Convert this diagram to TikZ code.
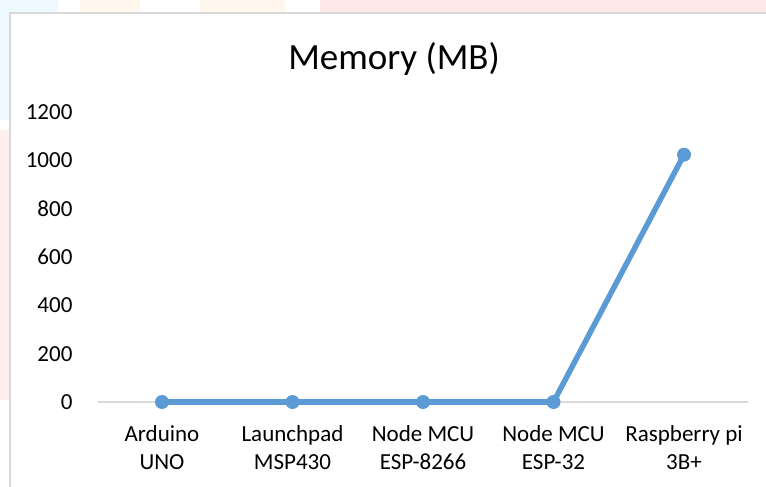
\documentclass[tikz,border=0pt]{standalone}
\usepackage{fontspec}
\setmainfont{Carlito}
\definecolor{serie}{RGB}{91,155,213}
\definecolor{grille}{RGB}{217,217,217}
\begin{document}
\begin{tikzpicture}[x=1pt, y=-1pt]
\useasboundingbox (0,0) rectangle (766,487);
% watermark traces
\fill[cyan!7] (0,0) rectangle (58,13);
\fill[cyan!7] (0,13) rectangle (10,120);
\fill[orange!7] (80,0) rectangle (140,13);
\fill[orange!7] (200,0) rectangle (285,13);
\fill[red!9] (320,0) rectangle (766,13);
\fill[red!6] (0,130) rectangle (10,400);
% chart frame
\draw[grille, line width=1.5pt] (10,487) -- (10,13) -- (766,13);
\node[anchor=base, font=\fontsize{37}{44}\selectfont] (title) at (394,70) {Memory (MB)};
% value axis
\node[anchor=east, font=\fontsize{23}{28}\selectfont] (t0) at (76,402) {0};
\node[anchor=east, font=\fontsize{23}{28}\selectfont] (t200) at (76,353.7) {200};
\node[anchor=east, font=\fontsize{23}{28}\selectfont] (t400) at (76,305.4) {400};
\node[anchor=east, font=\fontsize{23}{28}\selectfont] (t600) at (76,257.1) {600};
\node[anchor=east, font=\fontsize{23}{28}\selectfont] (t800) at (76,208.8) {800};
\node[anchor=east, font=\fontsize{23}{28}\selectfont] (t1000) at (76,160.5) {1000};
\node[anchor=east, font=\fontsize{23}{28}\selectfont] (t1200) at (76,112.2) {1200};
\coordinate (a0) at (98,402);
\coordinate (a1) at (748,402);
\draw[grille, line width=1.5pt] (a0) -- (a1);
% categories
\node[anchor=base, align=center, font=\fontsize{23}{28}\selectfont] (c1) at (162,469) {Arduino\\UNO};
\node[anchor=base, align=center, font=\fontsize{23}{28}\selectfont] (c2) at (292.5,469) {Launchpad\\MSP430};
\node[anchor=base, align=center, font=\fontsize{23}{28}\selectfont] (c3) at (423,469) {Node MCU\\ESP-8266};
\node[anchor=base, align=center, font=\fontsize{23}{28}\selectfont] (c4) at (553.5,469) {Node MCU\\ESP-32};
\node[anchor=base, align=center, font=\fontsize{23}{28}\selectfont] (c5) at (684,469) {Raspberry pi\\3B+};
% data points
\node[shape=circle, fill=serie, inner sep=0pt, minimum size=14pt] (1) at (162,402) {};
\node[shape=circle, fill=serie, inner sep=0pt, minimum size=14pt] (2) at (292.5,402) {};
\node[shape=circle, fill=serie, inner sep=0pt, minimum size=14pt] (3) at (423,402) {};
\node[shape=circle, fill=serie, inner sep=0pt, minimum size=14pt] (4) at (553.5,402) {};
\node[shape=circle, fill=serie, inner sep=0pt, minimum size=14pt] (5) at (684,154.7) {};
\path [-, line width=5.5pt, draw=serie] (1.center) edge (2.center);
\path [-, line width=5.5pt, draw=serie] (2.center) edge (3.center);
\path [-, line width=5.5pt, draw=serie] (3.center) edge (4.center);
\path [-, line width=5.5pt, draw=serie] (4.center) edge (5.center);
\end{tikzpicture}
\end{document}
